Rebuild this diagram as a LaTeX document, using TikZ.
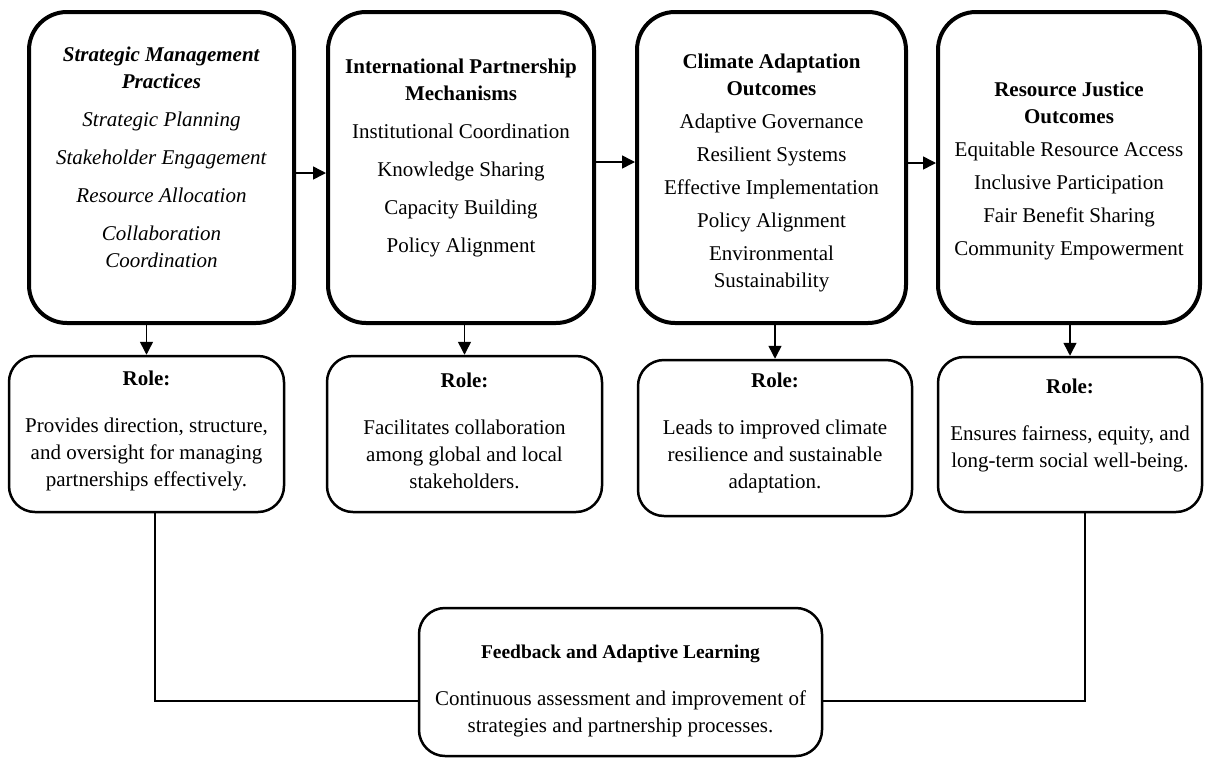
\documentclass[tikz,border=0pt]{standalone}
\usepackage{fontspec}
\setmainfont{Liberation Serif}
\usetikzlibrary{arrows.meta}
\begin{document}
\begin{tikzpicture}[x=1pt,y=-1pt,
  bigbox/.style={draw, line width=4pt, rounded corners=38pt, inner sep=0pt},
  rolebox/.style={draw, line width=2.5pt, rounded corners=26pt, inner sep=0pt},
  txt/.style={align=center, font=\fontsize{21}{27}\selectfont, inner sep=0pt},
  arr/.style={line width=1.5pt, -{Triangle[length=13pt,width=13pt]}},
  link/.style={line width=1.3pt}
]
\useasboundingbox (0,0) rectangle (1205,761);

% top boxes
\node[bigbox, minimum width=265pt, minimum height=311pt] (b1) at (161.5,167.5) {};
\node[bigbox, minimum width=266pt, minimum height=311pt] (b2) at (461,167.5) {};
\node[bigbox, minimum width=269pt, minimum height=311pt] (b3) at (771.5,167.5) {};
\node[bigbox, minimum width=262pt, minimum height=311pt] (b4) at (1069,167.5) {};

\node[txt] (t1) at (161.5,157) {\textbf{\textit{Strategic Management}}\\ \textbf{\textit{Practices}}\\[11pt]
  \textit{Strategic Planning}\\[11pt] \textit{Stakeholder Engagement}\\[11pt]
  \textit{Resource Allocation}\\[11pt] \textit{Collaboration}\\ \textit{Coordination}};
\node[txt] (t2) at (461,157.5) {\textbf{International Partnership}\\ \textbf{Mechanisms}\\[11pt]
  Institutional Coordination\\[11pt] Knowledge Sharing\\[11pt] Capacity Building\\[11pt] Policy Alignment};
\node[txt] (t3) at (771.5,172.5) {\textbf{Climate Adaptation}\\ \textbf{Outcomes}\\[6pt]
  Adaptive Governance\\[6pt] Resilient Systems\\[6pt] Effective Implementation\\[6pt]
  Policy Alignment\\[6pt] Environmental\\ Sustainability};
\node[txt] (t4) at (1069,171) {\textbf{Resource Justice}\\ \textbf{Outcomes}\\[6pt]
  Equitable Resource Access\\[6pt] Inclusive Participation\\[6pt] Fair Benefit Sharing\\[6pt] Community Empowerment};

% role boxes
\node[rolebox, minimum width=275pt, minimum height=156pt] (r1) at (146.5,434) {};
\node[rolebox, minimum width=275pt, minimum height=156pt] (r2) at (464.5,434) {};
\node[rolebox, minimum width=274pt, minimum height=156pt] (r3) at (775,438) {};
\node[rolebox, minimum width=264pt, minimum height=155pt] (r4) at (1070,434.5) {};

\node[txt] (rt1) at (146.5,431) {\textbf{Role:}\\[20pt] Provides direction, structure,\\ and oversight for managing\\ partnerships effectively.};
\node[txt] (rt2) at (464.5,431) {\textbf{Role:}\\[20pt] Facilitates collaboration\\ among global and local\\ stakeholders.};
\node[txt] (rt3) at (775,433) {\textbf{Role:}\\[20pt] Leads to improved climate\\ resilience and sustainable\\ adaptation.};
\node[txt] (rt4) at (1070,425) {\textbf{Role:}\\[20pt] Ensures fairness, equity, and\\ long-term social well-being.};

% feedback box
\node[rolebox, minimum width=403pt, minimum height=148pt] (fb) at (620.5,682) {};
\node[txt] (ft) at (620.5,691) {{\fontsize{19.5}{27}\selectfont\textbf{Feedback and Adaptive Learning}}\\[20pt]
  Continuous assessment and improvement of\\ strategies and partnership processes.};

% arrows between top boxes
\draw[arr] ([yshift=-5.5pt]b1.east) -- ([yshift=-5.5pt]b2.west);
\draw[arr] ([yshift=5.5pt]b2.east) -- ([yshift=5.5pt]b3.west);
\draw[arr] ([yshift=4.5pt]b3.east) -- ([yshift=4.5pt]b4.west);

% arrows down
\draw[arr] (r1.north |- b1.south) -- (r1.north);
\draw[arr] (r2.north |- b2.south) -- (r2.north);
\draw[arr] (r3.north |- b3.south) -- (r3.north);
\draw[arr] (r4.north |- b4.south) -- (r4.north);

% feedback links
\draw[link] ([xshift=8.5pt]r1.south) |- ([yshift=-19pt]fb.west);
\draw[link] ([xshift=15pt]r4.south) |- ([yshift=-19pt]fb.east);
\end{tikzpicture}
\end{document}
